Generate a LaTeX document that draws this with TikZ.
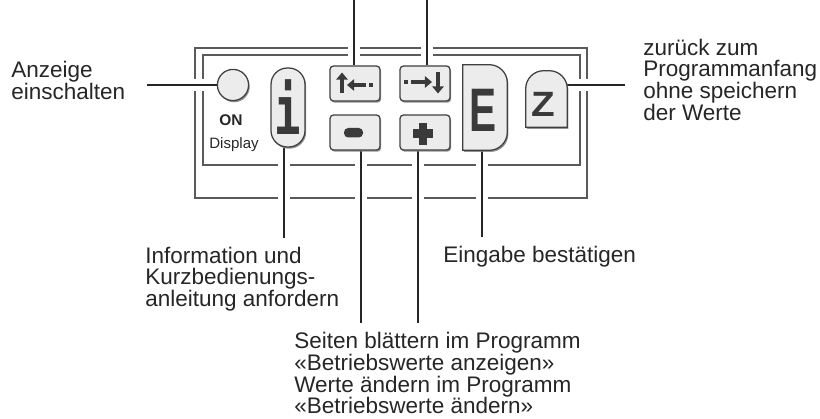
\documentclass[tikz,border=0pt]{standalone}
\usepackage{fontspec}
\setmainfont{Liberation Sans}
\newfontfamily\keyfont{Liberation Sans}
\newfontfamily\ikeyfont{DejaVu Sans Mono}
\usetikzlibrary{arrows.meta, positioning, calc, shadows, backgrounds}
\definecolor{panelgray}{HTML}{5A5A5A}
\definecolor{keyink}{HTML}{3A3A3A}
\definecolor{keyfill}{HTML}{ECECEC}
\tikzset{
  panel/.style={draw=panelgray, line width=1.2pt},
  leader/.style={draw=black!85, line width=0.9pt, preaction={draw=white, line width=8pt}},
  keyface/.style={draw=black!75, fill=keyfill, line width=0.9pt,
                  drop shadow={shadow xshift=0.8pt, shadow yshift=-1.2pt, opacity=0.85}},
  keyhold/.style={rectangle, inner sep=0pt},
  tabkey/.style={keyface, rectangle, rounded corners=2.5pt, minimum width=1.25cm, minimum height=0.875cm},
  note/.style={anchor=north west, inner sep=0pt, align=left, text=black!85,
               font=\fontsize{16pt}{15.5pt}\selectfont},
  glyph/.style={draw=keyink, line width=2.8pt, -{Triangle[length=5pt, width=8pt]}}
}

\begin{document}
\begin{tikzpicture}[x=0.025cm, y=-0.025cm]
  \useasboundingbox (0,0) rectangle (820,419);

  % keys
  \node[keyface, circle, minimum size=0.78cm] (onbtn) at (233,85) {};
  \node[font=\fontsize{11pt}{12pt}\selectfont\bfseries, text=black!85] (on) at (231,120) {ON};
  \node[below=0.05cm of on, xshift=0.075cm, font=\fontsize{10.7pt}{12pt}\selectfont, text=black!85] (disp) {Display};
  \node[keyface, rectangle, rounded corners=0.41cm, minimum width=0.85cm, minimum height=1.975cm] (ikey) at (288,107.5) {};
  \node[tabkey] (tabl) at (355,83.5) {};
  \node[tabkey] (tabr) at (425,83.5) {};
  \node[tabkey] (minus) at (355,132.5) {};
  \node[tabkey] (plus) at (425,132.5) {};
  \node[keyhold, minimum width=1.1cm, minimum height=2.125cm] (ekey) at (485,107.5) {};
  \node[keyhold, minimum width=1.025cm, minimum height=1.4cm] (zkey) at (546.5,99) {};
  \path[keyface] (ekey.south west) -- (ekey.north west) -- ([xshift=-0.45cm]ekey.north east)
    arc[start angle=90, end angle=0, radius=0.45cm] -- ([yshift=0.45cm]ekey.south east)
    arc[start angle=0, end angle=-90, radius=0.45cm] -- cycle;
  \path[keyface] (zkey.south west) -- ([yshift=-0.45cm]zkey.north west)
    arc[start angle=180, end angle=90, radius=0.45cm] -- ([xshift=-0.45cm]zkey.north east)
    arc[start angle=90, end angle=0, radius=0.45cm] -- (zkey.south east) -- cycle;

  % key symbols
  \node[inner sep=0pt, text=keyink, font=\ikeyfont\bfseries\fontsize{48pt}{48pt}\selectfont] (iglyph) at (ikey) {\scalebox{0.65}[1]{i}};
  \node[inner sep=0pt, text=keyink, font=\keyfont\bfseries\fontsize{43.7pt}{44pt}\selectfont] (eglyph) at ($(ekey)+(-1.5,2.5)$) {\scalebox{0.66}[1]{E}};
  \node[inner sep=0pt, text=keyink, font=\keyfont\bfseries\fontsize{25pt}{26pt}\selectfont] (zglyph) at ($(zkey)+(-3,5)$) {\scalebox{1.1}[1]{Z}};
  \draw[glyph] ($(tabl)+(-13,9.5)$) -- ($(tabl)+(-13,-11)$);
  \draw[glyph, line width=2.6pt] ($(tabl)+(11,1.5)$) -- ($(tabl)+(-8,1.5)$);
  \fill[keyink] ($(tabl)+(14,-0.5)$) rectangle +(4,4);
  \fill[keyink] ($(tabr)+(-21,-3.5)$) rectangle +(4,4);
  \draw[glyph, line width=2.6pt] ($(tabr)+(-14,-1.5)$) -- ($(tabr)+(7,-1.5)$);
  \draw[glyph] ($(tabr)+(13,-11)$) -- ($(tabr)+(13,10)$);
  \fill[keyink, rounded corners=3pt] ($(minus)+(-11,-4.5)$) rectangle ($(minus)+(8,5)$);
  \fill[keyink] ($(plus)+(-12,-3)$) rectangle ($(plus)+(8,5.5)$);
  \fill[keyink] ($(plus)+(-6,-9.5)$) rectangle ($(plus)+(2,12.5)$);

  % labels
  \node[note] (anz) at (11,61) {Anzeige\\einschalten};
  \node[note] (zur) at (643,38.6) {zurück zum\\Programmanfang\\ohne speichern\\der Werte};
  \node[note] (info) at (145,246.6) {Information und\\Kurzbedienungs-\\anleitung anfordern};
  \node[note] (eing) at (443,245.6) {Eingabe bestätigen};
  \node[note] (seit) at (294,332) {Seiten blättern im Programm\\«Betriebswerte anzeigen»\\Werte ändern im Programm\\«Betriebswerte ändern»};

  % leader ends
  \coordinate (tlend) at (354,0);
  \coordinate (trend) at (427,0);
  \coordinate (onend) at (147,85);
  \coordinate (zend) at (625,85);
  \coordinate (iend) at (284,238);
  \coordinate (mend) at (361,323);
  \coordinate (pend) at (418,323);
  \coordinate (eend) at (482,237);

  \begin{scope}[on background layer]
    \draw[panel] (195,48) rectangle (587,198);
    \draw[panel] (203,55) rectangle (580,165);
    \draw[leader] (tlend) -- (tlend |- tabl.north);
    \draw[leader] (trend) -- (trend |- tabr.north);
    \draw[leader] (onend) -- (onbtn.west);
    \draw[leader] (zend) -- (zend -| zkey.east);
    \draw[leader] (iend) -- (iend |- ikey.south);
    \draw[leader] (mend) -- (mend |- minus.south);
    \draw[leader] (pend) -- (pend |- plus.south);
    \draw[leader] (eend) -- (eend |- ekey.south);
  \end{scope}
\end{tikzpicture}
\end{document}
